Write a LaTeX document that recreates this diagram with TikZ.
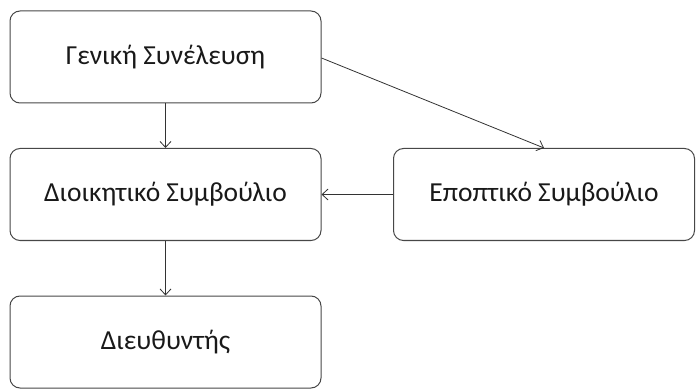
\documentclass[tikz,border=0pt]{standalone}
\usepackage{fontspec}
\setmainfont{Carlito}
\usetikzlibrary{arrows.meta}
\begin{document}
\begin{tikzpicture}[x=1pt,y=-1pt,
  orgbox/.style={draw=black!72, line width=1pt, rounded corners=10pt, fill=white,
    minimum height=92pt, inner sep=0pt, font=\fontsize{27.5}{32}\selectfont, text=black!90},
  link/.style={draw=black!80, line width=0.8pt, -{Straight Barb[length=6pt,width=11pt]}}]
  \useasboundingbox (0,0) rectangle (696,390);
  % boxes of the governance structure
  \node[orgbox, minimum width=311pt] (gs) at (165.5,57) {Γενική Συνέλευση};
  \node[orgbox, minimum width=311pt] (ds) at (165.5,194.5) {Διοικητικό Συμβούλιο};
  \node[orgbox, minimum width=311pt] (dir) at (165.5,342) {Διευθυντής};
  \node[orgbox, minimum width=301pt] (es) at (544,194.5) {Εποπτικό Συμβούλιο};
  % reporting lines
  \draw[link] (gs) -- (ds);
  \draw[link] (ds) -- (dir);
  \draw[link] (es) -- (ds);
  \draw[link] (gs.east |- 0,58) -- (es.north);
\end{tikzpicture}
\end{document}
